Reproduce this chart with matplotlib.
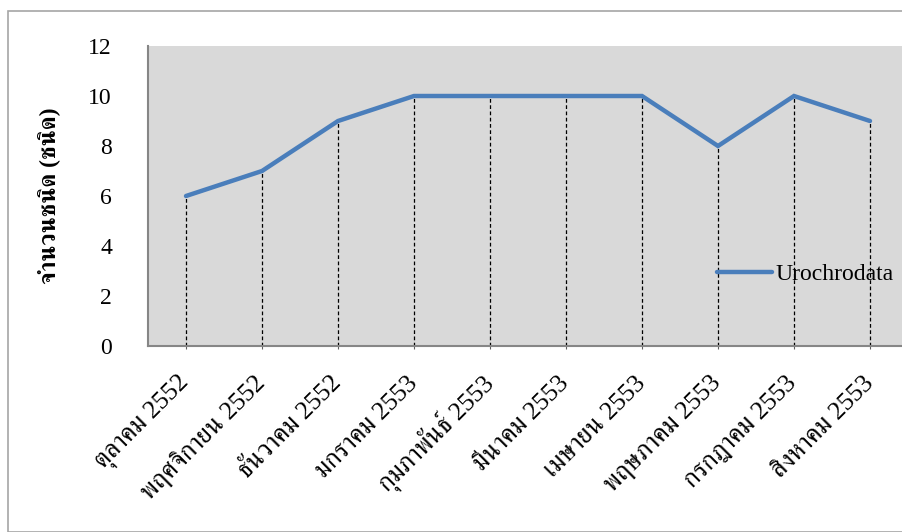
import matplotlib
matplotlib.use('Agg')
from matplotlib import pyplot as plt
from matplotlib import font_manager
from matplotlib.patches import Rectangle
from fontTools.ttLib import TTFont

months = ['ตุลาคม 2552', 'พฤศจิกายน 2552', 'ธันวาคม 2552', 'มกราคม 2553',
          'กุมภาพันธ์ 2553', 'มีนาคม 2553', 'เมษายน 2553', 'พฤษภาคม 2553',
          'กรกฎาคม 2553', 'สิงหาคม 2553']
counts = [6, 7, 9, 10, 10, 10, 10, 8, 10, 9]
series_name = 'Urochrodata'
ylabel = 'จำนวนชนิด (ชนิด)'
yticks = [0, 2, 4, 6, 8, 10, 12]

# look for an installed font that has Thai glyphs
thai_font = None
for f in font_manager.fontManager.ttflist:
    try:
        tt = TTFont(f.fname, fontNumber=0, lazy=True)
        if 0x0E08 in tt.getBestCmap():
            thai_font = f.name
            if 'serif' in f.name.lower() and 'sans' not in f.name.lower():
                break
    except Exception:
        pass
fams = ['Liberation Serif'] + ([thai_font] if thai_font else [])
plt.rcParams['font.family'] = fams

fig = plt.figure(figsize=(9.03, 5.32), dpi=100)
W, H = 903, 532
ax = fig.add_axes([148 / W, 1 - 346 / H, 760 / W, 300 / H])
ax.set_facecolor('#d9d9d9')

x = list(range(len(counts)))
ax.vlines(x, 0, counts, colors='black', linestyles=(0, (3, 2)), linewidth=0.9, zorder=2)
ax.plot(x, counts, color='#4a7ebb', linewidth=3.2, solid_capstyle='round',
        solid_joinstyle='miter', label=series_name, zorder=3)

ax.set_xlim(-0.5, len(counts) - 0.5)
ax.set_ylim(0, 12)
ax.set_yticks(yticks)
ax.set_yticklabels([str(v) for v in yticks], fontsize=17)
ax.tick_params(axis='y', length=0, pad=26)
ax.set_xticks(x)
ax.set_xticklabels(months, fontsize=18.5, rotation=45, ha='right', va='center',
                   rotation_mode='anchor')
ax.tick_params(axis='x', direction='inout', length=5, width=0.8, color='#606060', pad=22)

for s in ['top', 'right']:
    ax.spines[s].set_visible(False)
for s in ['left', 'bottom']:
    ax.spines[s].set_color('#868686')
    ax.spines[s].set_linewidth(1.5)

ax.set_ylabel(ylabel, fontsize=17, fontweight='bold', labelpad=20)

leg = ax.legend(loc='center left', bbox_to_anchor=(560 / 760, 0.238), frameon=False,
                fontsize=17, handlelength=2.3, handletextpad=0.15, borderaxespad=0)

fig.patches.append(Rectangle((8 / W, 0), 1, 1 - 11 / H, transform=fig.transFigure,
                             fill=False, edgecolor='#a6a6a6', linewidth=1.2,
                             clip_on=False))

fig.savefig('out.png', dpi=100)
